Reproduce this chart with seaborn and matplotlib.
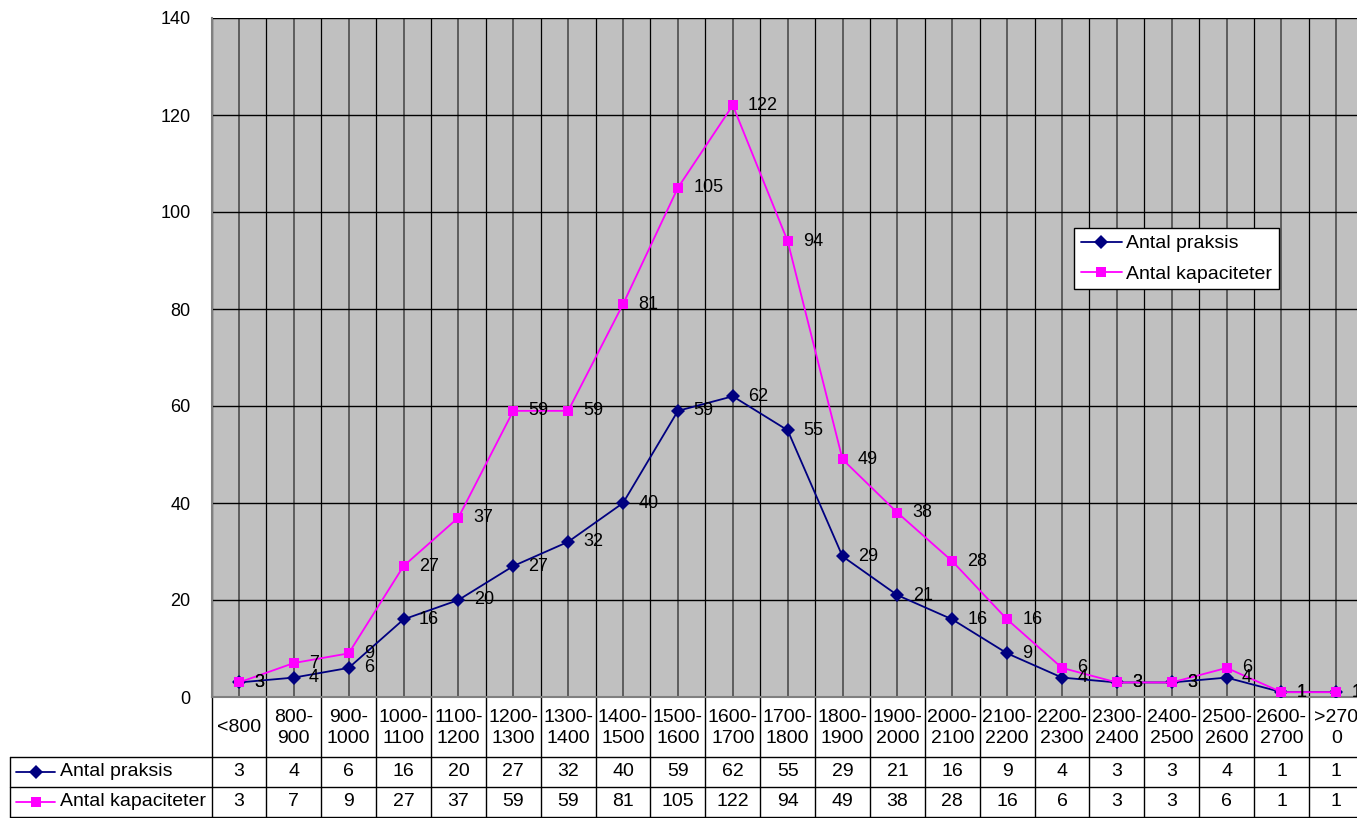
import matplotlib
matplotlib.use("Agg")
import matplotlib.pyplot as plt
import matplotlib.transforms as mtrans
from matplotlib.lines import Line2D
import seaborn as sns
import pandas as pd

categories = ["<800", "800-\n900", "900-\n1000", "1000-\n1100", "1100-\n1200", "1200-\n1300",
              "1300-\n1400", "1400-\n1500", "1500-\n1600", "1600-\n1700", "1700-\n1800",
              "1800-\n1900", "1900-\n2000", "2000-\n2100", "2100-\n2200", "2200-\n2300",
              "2300-\n2400", "2400-\n2500", "2500-\n2600", "2600-\n2700", ">270\n0"]
praksis = [3, 4, 6, 16, 20, 27, 32, 40, 59, 62, 55, 29, 21, 16, 9, 4, 3, 3, 4, 1, 1]
kapaciteter = [3, 7, 9, 27, 37, 59, 59, 81, 105, 122, 94, 49, 38, 28, 16, 6, 3, 3, 6, 1, 1]
series_names = ["Antal praksis", "Antal kapaciteter"]
colors = {"Antal praksis": "#000080", "Antal kapaciteter": "#FF00FF"}
markers = {"Antal praksis": "D", "Antal kapaciteter": "s"}
yticks = [0, 20, 40, 60, 80, 100, 120, 140]

sns.set_theme(style="white")
plt.rcParams["font.family"] = ["Liberation Sans", "DejaVu Sans"]
plt.rcParams["text.color"] = "black"
plt.rcParams["ytick.color"] = "black"
plt.rcParams["ytick.labelcolor"] = "black"

FS = 14
FS_LAB = 13
W, H = 1357, 818
fig = plt.figure(figsize=(W / 100, H / 100), dpi=100)
fig.patch.set_facecolor("white")

left_px, right_px, top_px, bottom_px = 211.5, 1363.8, 18, 697
ax = fig.add_axes([left_px / W, 1 - bottom_px / H, (right_px - left_px) / W, (bottom_px - top_px) / H])
ax.set_facecolor("#C0C0C0")

n = len(categories)
rows = []
for name, vals in zip(series_names, [praksis, kapaciteter]):
    for i, v in enumerate(vals):
        rows.append({"idx": i, "value": v, "series": name})
df = pd.DataFrame(rows)

sns.lineplot(data=df, x="idx", y="value", hue="series", style="series",
             palette=colors, markers=markers, dashes=False, markersize=7,
             markeredgewidth=0, linewidth=1.3, ax=ax, legend=False, zorder=5)

# data labels
for name, vals in zip(series_names, [praksis, kapaciteter]):
    for i, v in enumerate(vals):
        ax.annotate(str(v), (i, v), xytext=(11, 0), textcoords="offset points",
                    ha="left", va="center", fontsize=FS_LAB, color="black", zorder=6)

ax.set_xlim(-0.5, n - 0.5)
ax.set_ylim(0, 140)
ax.set_yticks(yticks)
ax.set_yticklabels([str(t) for t in yticks], fontsize=FS_LAB)
ax.set_xticks(range(n))
ax.set_xticklabels([])
ax.set_xticks([i - 0.5 for i in range(n + 1)], minor=True)
ax.tick_params(axis="x", which="both", length=0)
ax.tick_params(axis="y", which="major", length=6, width=1, color="black", direction="out", pad=9)
ax.grid(True, axis="y", which="major", color="black", linewidth=1)
ax.grid(True, axis="x", which="major", color="#555555", linewidth=1.3)
ax.grid(True, axis="x", which="minor", color="black", linewidth=0.9)
ax.set_axisbelow(True)
ax.set_xlabel("")
ax.set_ylabel("")
for s in ["top", "right"]:
    ax.spines[s].set_visible(False)
for s in ["left", "bottom"]:
    ax.spines[s].set_color("#808080")
    ax.spines[s].set_linewidth(1.5)

# legend
handles = [Line2D([0], [0], color=colors[nm], marker=markers[nm], markersize=7,
                  markeredgewidth=0, linewidth=1.3) for nm in series_names]
leg = fig.legend(handles, series_names, loc="upper left",
                 bbox_to_anchor=(1074 / W, 1 - 228 / H), fontsize=FS,
                 frameon=True, fancybox=False, edgecolor="black", framealpha=1,
                 borderpad=0.35, labelspacing=0.65, handlelength=2.1, handletextpad=0.25,
                 borderaxespad=0)
leg.get_frame().set_linewidth(1)

# data table below axis
tr = mtrans.blended_transform_factory(ax.transData, fig.transFigure)
def fy(py):
    return 1 - py / H

row_hdr_bot, row1_bot, row2_bot = 757, 787, 817
for i in range(n + 1):
    ax.add_line(Line2D([i - 0.5, i - 0.5], [fy(bottom_px), fy(row2_bot)], transform=tr,
                       color="black", linewidth=1, clip_on=False))
figtr = fig.transFigure
for py in [row_hdr_bot, row1_bot, row2_bot]:
    fig.add_artist(Line2D([10 / W, 1], [fy(py), fy(py)], transform=figtr, color="black", linewidth=1))
fig.add_artist(Line2D([10 / W, 10 / W], [fy(row_hdr_bot), fy(row2_bot)], transform=figtr,
                      color="black", linewidth=1))

for i, c in enumerate(categories):
    ax.text(i, fy((bottom_px + row_hdr_bot) / 2 + 1), c, transform=tr, ha="center", va="center",
            fontsize=FS, linespacing=1.25, clip_on=False)
    ax.text(i, fy((row_hdr_bot + row1_bot) / 2), str(praksis[i]), transform=tr,
            ha="center", va="center", fontsize=FS, clip_on=False)
    ax.text(i, fy((row1_bot + row2_bot) / 2), str(kapaciteter[i]), transform=tr,
            ha="center", va="center", fontsize=FS, clip_on=False)

for j, (nm, py0, py1) in enumerate([(series_names[0], row_hdr_bot, row1_bot),
                                     (series_names[1], row1_bot, row2_bot)]):
    yc = fy((py0 + py1) / 2)
    fig.add_artist(Line2D([16 / W, 55 / W], [yc, yc], transform=figtr, color=colors[nm],
                          linewidth=1.3))
    fig.add_artist(Line2D([35.5 / W], [yc], transform=figtr, color=colors[nm],
                          marker=markers[nm], markersize=7, markeredgewidth=0))
    fig.text(60 / W, yc, nm, ha="left", va="center", fontsize=FS)

fig.savefig("out.png", dpi=100)
